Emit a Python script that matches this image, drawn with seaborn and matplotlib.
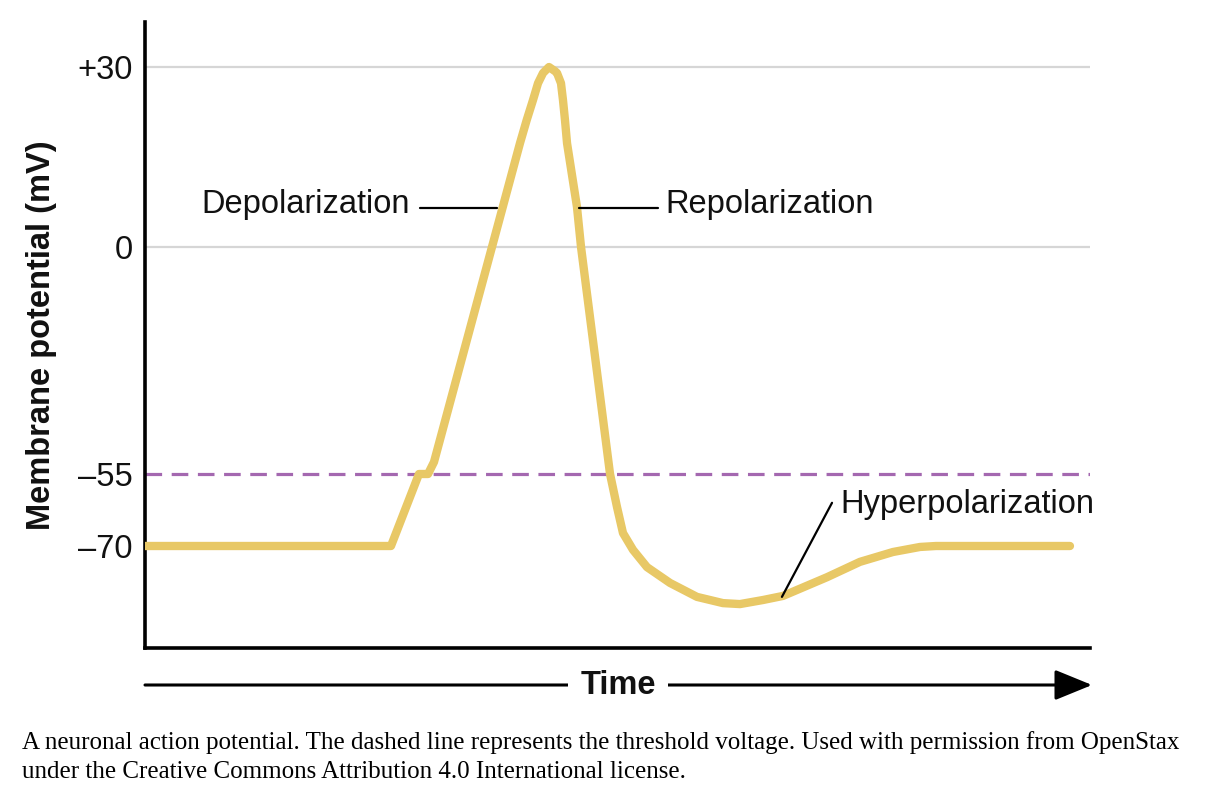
import numpy as np
import pandas as pd
import matplotlib
matplotlib.use('Agg')
import matplotlib.pyplot as plt
import seaborn as sns

# membrane potential trace (time in arbitrary units, mV)
time = [0.00, 2.603, 2.899, 2.995, 3.058, 3.968, 4.04, 4.106, 4.159, 4.212, 4.275,
        4.339, 4.360, 4.402, 4.423, 4.444, 4.466, 4.571, 4.614, 4.921, 4.995, 5.058,
        5.164, 5.312, 5.556, 5.841, 6.116, 6.296, 6.540, 6.751, 7.217, 7.566,
        7.915, 8.201, 8.370, 9.788]
potential = [-70, -70, -55, -55, -52.1, 17.3, 21.2, 24.5, 27.3, 29.0, 30,
             29.3, 29.0, 27.3, 24.5, 21.2, 17.3, 6.7, 0, -55, -61.9, -67.3,
             -70.8, -74.4, -77.7, -80.6, -81.9, -82.1, -81.25, -80.4, -76.5, -73.3,
             -71.25, -70.2, -70, -70]

tick_values = [30, 0, -55, -70]
tick_labels = ['+30', '0', '\u201355', '\u201370']
grid_values = [30, 0]
threshold = -55

trace_df = pd.DataFrame({'Time': time, 'mV': potential})

# the drawing is schematic: the voltage axis is stretched piecewise
scale_mv = [-100, -70, -55, 0, 30, 40]
scale_pos = [-42, 102, 174, 401, 581, 641]


def forward(v):
    return np.interp(v, scale_mv, scale_pos)


def inverse(p):
    return np.interp(p, scale_pos, scale_mv)


sns.set_theme(style='white')
plt.rcParams['font.family'] = ['Liberation Sans', 'DejaVu Sans']
fs = 23.5

fig = plt.figure(figsize=(12.18, 7.97), dpi=100)
ax = fig.add_axes([145 / 1218, 149 / 797, 945 / 1218, 626 / 797])
ax.set_yscale('function', functions=(forward, inverse))

for g in grid_values:
    ax.axhline(g, color='#d6d6d6', lw=1.6, zorder=1)
ax.axhline(threshold, color='#a468b0', lw=2.3, dashes=(5.2, 3.0), zorder=1)

sns.lineplot(data=trace_df, x='Time', y='mV', sort=False, estimator=None,
             color='#e8c866', lw=6, ax=ax, zorder=3,
             solid_capstyle='round', solid_joinstyle='round')

ax.set_xlim(0, 10)
ax.set_ylim(-91.25, 37.5)
ax.set_xticks([])
ax.set_yticks(tick_values)
ax.set_yticklabels(tick_labels, fontsize=fs)
ax.tick_params(axis='y', length=0, pad=9, colors='#111111')
for side in ['top', 'right']:
    ax.spines[side].set_visible(False)
for side in ['left', 'bottom']:
    ax.spines[side].set_color('black')
    ax.spines[side].set_linewidth(2.6)
ax.set_xlabel('')
ax.set_ylabel('Membrane potential (mV)', fontsize=fs, fontweight='bold', color='#111111')
ax.yaxis.set_label_coords(-0.093, 0.5)

# phase labels with their pointer lines
ax.plot([2.91, 3.72], [6.5, 6.5], color='black', lw=1.6, zorder=4)
ax.text(2.80, 7.0, 'Depolarization', fontsize=fs, ha='right', va='center', color='#111111')
ax.plot([4.59, 5.43], [6.5, 6.5], color='black', lw=1.6, zorder=4)
ax.text(5.51, 7.0, 'Repolarization', fontsize=fs, ha='left', va='center', color='#111111')
ax.plot([6.74, 7.27], [-80.6, -61.0], color='black', lw=1.6, zorder=4)
ax.text(7.36, -61.3, 'Hyperpolarization', fontsize=fs, ha='left', va='center', color='#111111')

# time arrow below the axes
y_arrow = 1 - 685 / 797
fig.patches.append(matplotlib.patches.FancyArrowPatch(
    (145 / 1218, y_arrow), (1092 / 1218, y_arrow), transform=fig.transFigure,
    arrowstyle='-|>,head_length=1.15,head_width=0.47', mutation_scale=20,
    color='black', lw=2.2, shrinkA=0, shrinkB=0))
fig.text(618 / 1218, y_arrow, 'Time', fontsize=fs, fontweight='bold', ha='center', va='center',
         color='#111111', bbox=dict(facecolor='white', edgecolor='none', pad=9))

caption = ('A neuronal action potential. The dashed line represents the threshold voltage. '
           'Used with permission from OpenStax\nunder the Creative Commons Attribution 4.0 International license.')
fig.text(22 / 1218, 1 - 757 / 797, caption, fontsize=18, family='Liberation Serif',
         ha='left', va='center', linespacing=1.45, color='black')

plt.savefig('out.png', dpi=100)
